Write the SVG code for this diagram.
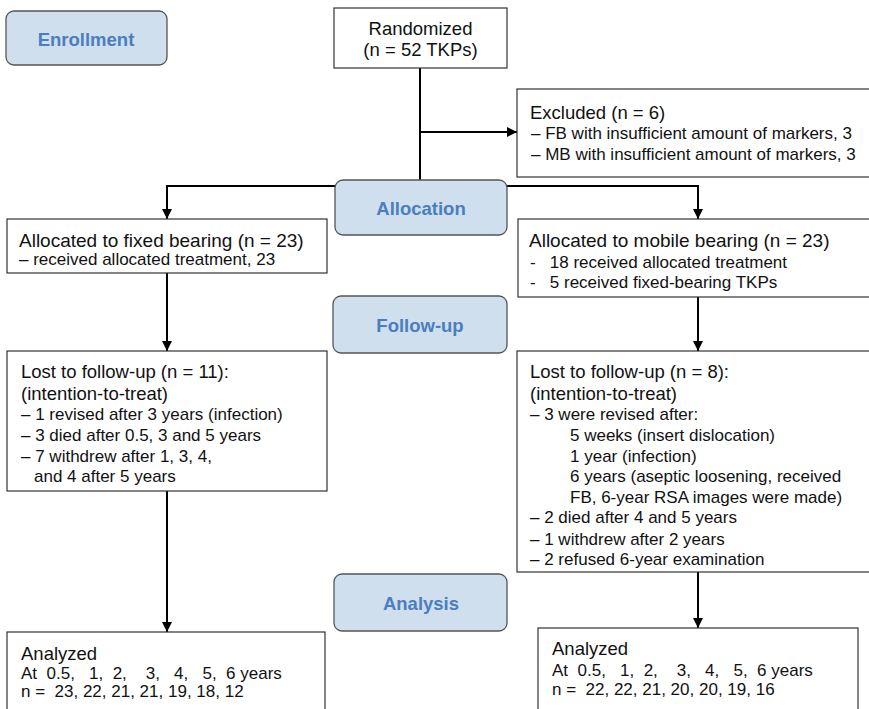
<svg xmlns="http://www.w3.org/2000/svg" width="869" height="709" viewBox="0 0 869 709">
<style>
.box{fill:#fff;stroke:#333;stroke-width:1.2}
.hdr{fill:#cfdfed;stroke:#555;stroke-width:1.3}
.ht{font-family:"Liberation Sans",Arial,sans-serif;font-weight:bold;font-size:18.5px;fill:#4a7ebf;text-anchor:middle}
.t{font-family:"Liberation Sans",Arial,sans-serif;font-size:18.5px;fill:#111}
.t19{font-family:"Liberation Sans",Arial,sans-serif;font-size:19px;fill:#111}
.s{font-family:"Liberation Sans",Arial,sans-serif;font-size:17px;fill:#111}
.c{fill:none;stroke:#000;stroke-width:2}
</style>
<defs>
<marker id="ah" viewBox="0 0 10 10" refX="10" refY="5" markerWidth="10" markerHeight="10" markerUnits="userSpaceOnUse" orient="auto">
<path d="M0,0 L10,5 L0,10 z" fill="#000"/>
</marker>
</defs>
<rect width="869" height="709" fill="#fff"/>
<g id="connectors">
<line class="c" x1="420" y1="68" x2="420" y2="186"/>
<line class="c" x1="420" y1="132" x2="517" y2="132" marker-end="url(#ah)"/>
<polyline class="c" points="420,186 167,186 167,219" marker-end="url(#ah)"/>
<polyline class="c" points="420,186 698,186 698,219" marker-end="url(#ah)"/>
<line class="c" x1="167" y1="273" x2="167" y2="351" marker-end="url(#ah)"/>
<line class="c" x1="698" y1="297" x2="698" y2="351" marker-end="url(#ah)"/>
<line class="c" x1="167" y1="491" x2="167" y2="632" marker-end="url(#ah)"/>
<line class="c" x1="698" y1="572" x2="698" y2="628" marker-end="url(#ah)"/>
</g>
<g id="enrollment">
<rect class="hdr" x="6" y="11" width="161" height="54" rx="8"/>
<text class="ht" x="86" y="45.5">Enrollment</text>
</g>
<g id="randomized">
<rect class="box" x="334" y="8" width="173" height="60"/>
<text class="t" x="420.5" y="34.5" text-anchor="middle">Randomized</text>
<text class="t" x="420.5" y="56" text-anchor="middle">(n = 52 TKPs)</text>
</g>
<g id="excluded">
<rect class="box" x="517" y="89" width="360" height="88"/>
<text class="t" x="530" y="119">Excluded (n = 6)</text>
<text class="s" x="531" y="139">– FB with insufficient amount of markers, 3</text>
<text class="s" x="531" y="160">– MB with insufficient amount of markers, 3</text>
</g>
<g id="allocation">
<rect class="hdr" x="335" y="180" width="172" height="55" rx="8"/>
<text class="ht" x="421" y="214.5">Allocation</text>
</g>
<g id="fixed">
<rect class="box" x="7" y="219" width="320" height="54"/>
<text class="t19" x="19" y="246.5">Allocated to fixed bearing (n = 23)</text>
<text class="s" x="19" y="265">– received allocated treatment, 23</text>
</g>
<g id="mobile">
<rect class="box" x="518" y="219" width="360" height="78"/>
<text class="t19" x="529" y="246.5">Allocated to mobile bearing (n = 23)</text>
<text class="s" x="530" y="268" xml:space="preserve">-   18 received allocated treatment</text>
<text class="s" x="530" y="288" xml:space="preserve">-   5 received fixed-bearing TKPs</text>
</g>
<g id="followup">
<rect class="hdr" x="333" y="296" width="174" height="57" rx="8"/>
<text class="ht" x="420" y="331.5">Follow-up</text>
</g>
<g id="lost-fixed">
<rect class="box" x="7" y="351" width="320" height="140"/>
<text class="t" x="21" y="377.5">Lost to follow-up (n = 11):</text>
<text class="t" x="21" y="399.5">(intention-to-treat)</text>
<text class="s" x="21" y="420">– 1 revised after 3 years (infection)</text>
<text class="s" x="21" y="441">– 3 died after 0.5, 3 and 5 years</text>
<text class="s" x="21" y="462">– 7 withdrew after 1, 3, 4,</text>
<text class="s" x="34" y="482">and 4 after 5 years</text>
</g>
<g id="lost-mobile">
<rect class="box" x="517" y="351" width="360" height="221"/>
<text class="t" x="530" y="377.5">Lost to follow-up (n = 8):</text>
<text class="t" x="530" y="399.5">(intention-to-treat)</text>
<text class="s" x="530" y="420">– 3 were revised after:</text>
<text class="s" x="570" y="441">5 weeks (insert dislocation)</text>
<text class="s" x="570" y="462">1 year (infection)</text>
<text class="s" x="570" y="482">6 years (aseptic loosening, received</text>
<text class="s" x="570" y="503">FB, 6-year RSA images were made)</text>
<text class="s" x="530" y="523">– 2 died after 4 and 5 years</text>
<text class="s" x="530" y="545">– 1 withdrew after 2 years</text>
<text class="s" x="530" y="565">– 2 refused 6-year examination</text>
</g>
<g id="analysis">
<rect class="hdr" x="334" y="574" width="173" height="57" rx="8"/>
<text class="ht" x="421" y="609.5">Analysis</text>
</g>
<g id="analyzed-fixed">
<rect class="box" x="7" y="632" width="318" height="90"/>
<text class="t" x="21" y="659.5">Analyzed</text>
<text class="s" x="21" y="679" xml:space="preserve">At  0.5,   1,  2,    3,   4,   5,  6 years</text>
<text class="s" x="21" y="697" xml:space="preserve">n =  23, 22, 21, 21, 19, 18, 12</text>
</g>
<g id="analyzed-mobile">
<rect class="box" x="538" y="628" width="320" height="90"/>
<text class="t" x="552" y="654.5">Analyzed</text>
<text class="s" x="552" y="676" xml:space="preserve">At  0.5,   1,  2,    3,   4,   5,  6 years</text>
<text class="s" x="552" y="695" xml:space="preserve">n =  22, 22, 21, 20, 20, 19, 16</text>
</g>
</svg>
